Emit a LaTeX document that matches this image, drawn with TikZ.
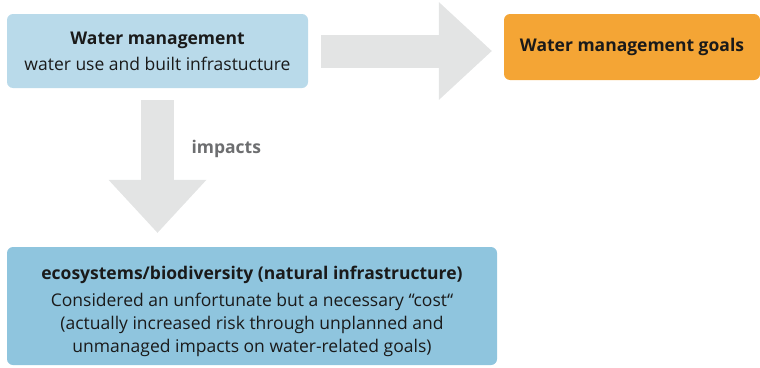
\documentclass[tikz,border=0pt]{standalone}
\usepackage{fontspec}
\setmainfont{Open Sans}
\usetikzlibrary{arrows.meta}

\definecolor{wmblue}{HTML}{B9DAEA}
\definecolor{ecoblue}{HTML}{8FC5DE}
\definecolor{goalorange}{HTML}{F4A535}
\definecolor{arrowgray}{HTML}{E3E4E4}
\definecolor{labelgray}{HTML}{6D6E70}
\definecolor{inkblack}{HTML}{1A1A1A}

\begin{document}
\begin{tikzpicture}[x = 1pt, y = -1pt,
                        box/.style = {rounded corners = 6pt, align = center, inner sep = 0pt,
                                      text = inkblack, font = \fontsize{17.5}{23}\selectfont},
                        wmbox/.style = {box, fill = wmblue, minimum width = 301pt, minimum height = 74pt},
                        goalbox/.style = {box, fill = goalorange, minimum width = 256pt, minimum height = 66pt},
                        ecobox/.style = {box, fill = ecoblue, minimum width = 490pt, minimum height = 118pt},
                        fat/.style = {draw = arrowgray, line width = 33pt,
                                      -{Triangle[length = 53pt, width = 98pt, line width = 0pt]}}]
      \useasboundingbox (0, 0) rectangle (760, 367);
      \node [wmbox] (wm) at (157.5, 51){\textbf{Water management}\\[3pt]water use and built infrastucture};
      \node [goalbox] (goals) at (632, 47){\textbf{Water management goals}};
      \node [ecobox] (eco) at (252, 306){\rule{0pt}{24pt}\textbf{ecosystems/biodiversity (natural infrastructure)}\\[4pt]
        Considered an unfortunate but a necessary “cost“\\
        (actually increased risk through unplanned and\\
        unmanaged impacts on water-related goals)};
      \draw [fat, shorten < = 13pt, shorten > = 12pt] (wm.east) -- (wm.east -| goals.west);
      \draw [fat, shorten < = 12pt, shorten > = 14pt] (wm.south) -- (wm.south |- eco.north);
      \node [anchor = base west, text = labelgray, font = \fontsize{17.5}{20}\selectfont\bfseries] (impacts) at (188, 153){impacts};
    \end{tikzpicture}
\end{document}
